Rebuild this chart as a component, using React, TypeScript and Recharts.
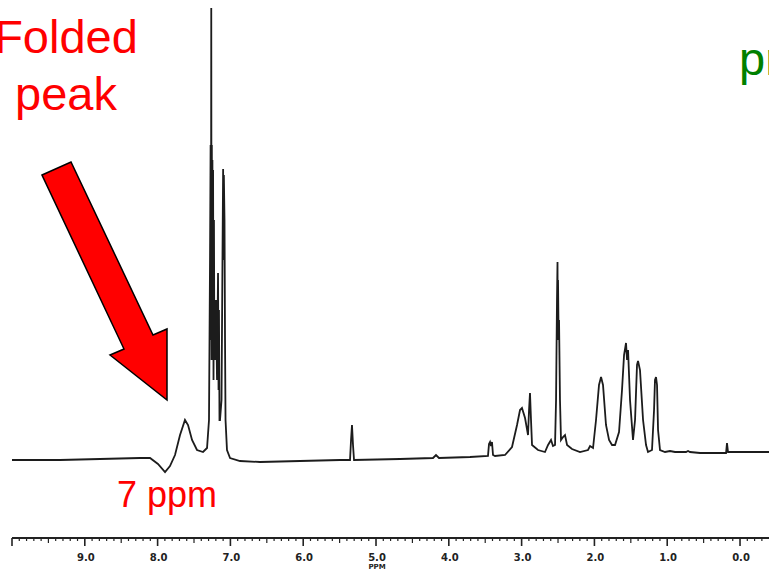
import React from "react";
import { LineChart, Line, XAxis, YAxis } from "recharts";

// Chemical shift (ppm) of each sampled point of the spectrum trace
const PPM: number[] = [
  10.0, 9.341, 8.791, 8.242, 8.104, 7.995, 7.898, 7.83, 7.761, 7.692, 7.624, 7.582, 7.527, 7.459, 7.376, 7.321, 7.294,
  7.28, 7.272, 7.267, 7.263, 7.259, 7.255, 7.251, 7.247, 7.243, 7.238, 7.232, 7.226, 7.221, 7.212, 7.198, 7.184, 7.17,
  7.163, 7.157, 7.15, 7.143, 7.122, 7.109, 7.1, 7.095, 7.09, 7.081, 7.074,
  7.067, 7.047, 7.005, 6.868, 6.593, 6.044, 5.495, 5.357, 5.343, 5.33, 5.316, 5.302, 4.67, 4.217, 4.176, 4.135, 3.709,
  3.462, 3.448, 3.434, 3.42, 3.407, 3.393, 3.365, 3.228, 3.132, 3.063, 3.022, 2.995, 2.953, 2.912, 2.898, 2.885, 2.871,
  2.857, 2.775, 2.679, 2.637, 2.596, 2.569, 2.541, 2.527, 2.514, 2.507, 2.503, 2.5, 2.493, 2.486, 2.473, 2.459, 2.431,
  2.404, 2.376, 2.308, 2.198, 2.088, 2.06, 2.019, 1.978, 1.937, 1.909, 1.882, 1.841, 1.799, 1.758, 1.717, 1.662, 1.621,
  1.593, 1.566, 1.552, 1.538, 1.511, 1.47, 1.442, 1.415, 1.401, 1.374, 1.332, 1.291, 1.264, 1.209, 1.181, 1.168, 1.154,
  1.14, 1.126, 1.099, 1.03, 0.962, 0.893, 0.742, 0.714, 0.687, 0.549, 0.192, 0.179, 0.165, 0.0, -0.398,
];

// Signal intensity (arbitrary units) at each point above
const INTENSITY: number[] = [
  0, 0, 1, 2, 2, -4, -12, -6, 5, 25, 40, 35, 20, 10, 8, 12, 40,
  200, 315, 120, 452, 100, 315, 150, 300, 100, 290, 80, 240, 120, 100, 160, 80, 187,
  70, 150, 40, 40, 60, 200, 291, 200, 285, 240, 120,
  40, 10, 2, -1, -2, -1, 0, 0, 20, 35, 15, 0, 1, 2, 5, 2, 3,
  4, 16, 18, 14, 18, 5, 4, 5, 13, 35, 50, 52, 42, 25, 50, 67, 40,
  15, 10, 8, 15, 20, 14, 15, 60, 160, 198, 120, 180, 130, 140, 60, 20, 23,
  25, 15, 11, 8, 10, 14, 12, 40, 75, 83, 75, 35, 20, 15, 15, 28, 70,
  105, 117, 100, 110, 60, 20, 40, 95, 99, 90, 40, 15, 8, 10, 50, 80, 83,
  75, 30, 10, 8, 9, 8, 8, 9, 8, 7, 7, 17, 8, 8, 8,
];

// Labelled axis ticks
const TICK_VALUES: number[] = [9, 8, 7, 6, 5, 4, 3, 2, 1, 0];
const TICK_LABELS: string[] = ["9.0", "8.0", "7.0", "6.0", "5.0", "4.0", "3.0", "2.0", "1.0", "0.0"];

const data = PPM.map((p, i) => ({ ppm: p, intensity: INTENSITY[i] }));

// minor ticks every 0.1 ppm
const allTicks: number[] = [];
for (let k = 100; k >= -3; k--) allTicks.push(k / 10);

const PpmTick = (props: any) => {
  const { x, y, payload } = props;
  const v: number = payload.value;
  const r = Math.round(v * 10);
  const major = r % 10 === 0;
  const half = r % 5 === 0;
  const len = major ? 8 : half ? 5 : 3;
  const idx = TICK_VALUES.findIndex((t) => Math.abs(t - v) < 1e-6);
  return (
    <g>
      <line x1={x} x2={x} y1={y} y2={y + len} stroke="#222" strokeWidth={major ? 1.6 : 1.2} />
      {idx >= 0 && (
        <text
          x={x + 1}
          y={y + 23}
          textAnchor="middle"
          fontFamily="'DejaVu Sans', sans-serif"
          fontWeight="bold"
          fontSize={10}
          fill="#222"
        >
          {TICK_LABELS[idx]}
        </text>
      )}
      {idx >= 0 && TICK_VALUES[idx] === 5 && (
        <text
          x={x + 1}
          y={y + 31}
          textAnchor="middle"
          fontFamily="'DejaVu Sans', sans-serif"
          fontWeight="bold"
          fontSize={7}
          fill="#222"
        >
          PPM
        </text>
      )}
    </g>
  );
};

export default function App() {
  return (
    <div style={{ position: "absolute", left: 0, top: 0, width: 769, height: 571, background: "#fff", overflow: "hidden" }}>
      <LineChart width={769} height={571} data={data} margin={{ top: 0, right: 0, bottom: 0, left: 12 }}>
        <XAxis
          dataKey="ppm"
          type="number"
          domain={[-0.398, 10]}
          reversed
          allowDataOverflow
          ticks={allTicks}
          interval={0}
          height={33}
          tickSize={0}
          tickMargin={0}
          tickLine={false}
          axisLine={{ stroke: "#222", strokeWidth: 2 }}
          tick={<PpmTick />}
        />
        <YAxis hide type="number" domain={[-78, 460]} allowDataOverflow />
        <Line
          type="linear"
          dataKey="intensity"
          stroke="#1c1c1c"
          strokeWidth={1.8}
          dot={false}
          isAnimationActive={false}
        />
      </LineChart>
      <svg
        width={769}
        height={571}
        style={{ position: "absolute", left: 0, top: 0, pointerEvents: "none" }}
      >
        <g fontFamily="'Liberation Sans', Arial, sans-serif">
          <text x={66} y={53} textAnchor="middle" fontSize={47} fill="#ff0000">Folded</text>
          <text x={66} y={110} textAnchor="middle" fontSize={47} fill="#ff0000">peak</text>
          <text x={739} y={75} fontSize={47} fill="#008000">pr</text>
          <text x={167} y={507} textAnchor="middle" fontSize={36} fill="#ff0000">7 ppm</text>
        </g>
        <polygon
          points="42,175 71,162 153,335 167,329 167,400 110,355 124,349"
          fill="#ff0000"
          stroke="#000"
          strokeWidth={1.5}
          strokeLinejoin="miter"
        />
      </svg>
    </div>
  );
}
